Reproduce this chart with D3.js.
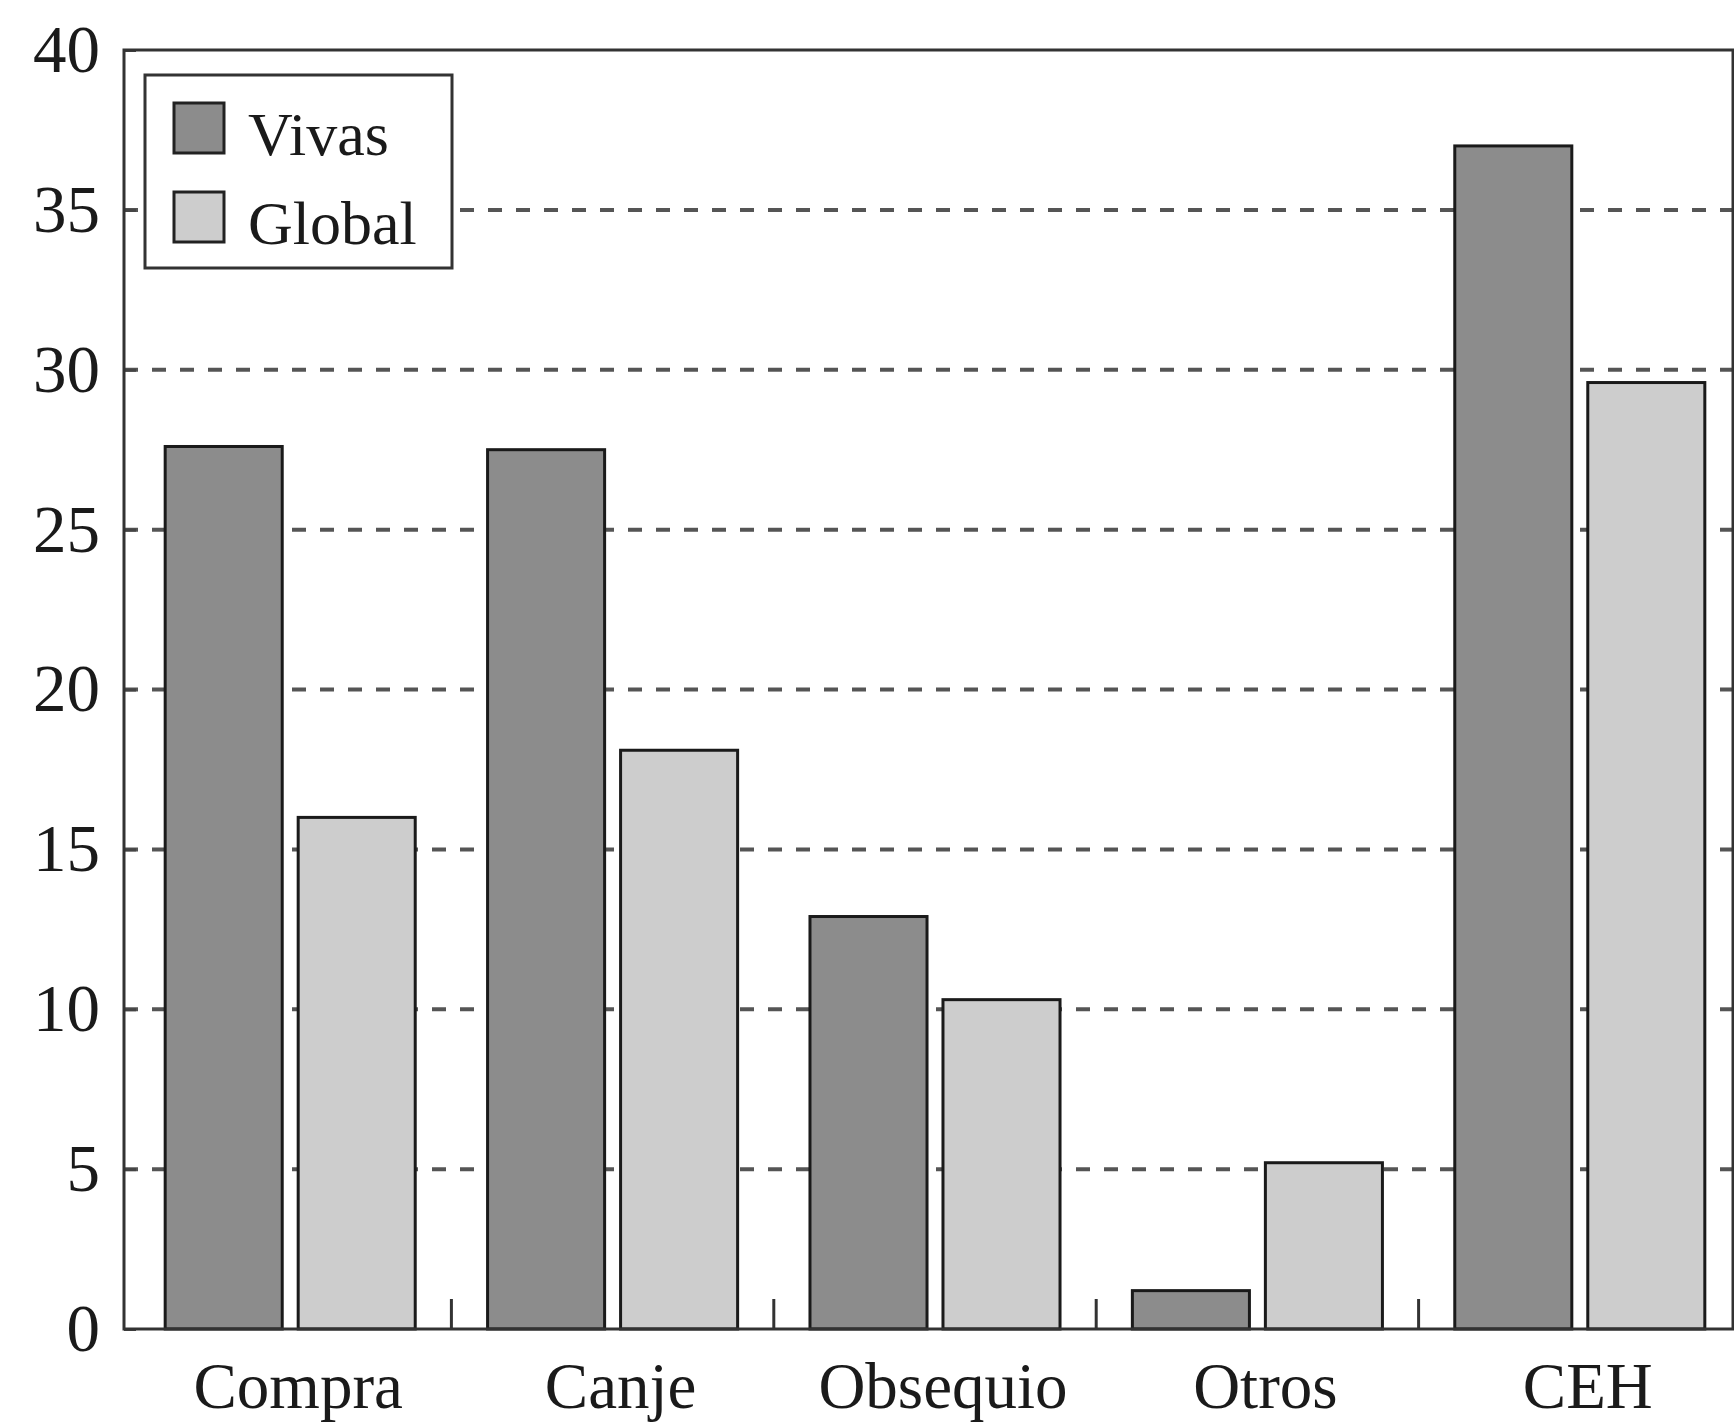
<!DOCTYPE html>
<html>
<head>
<meta charset="utf-8">
<script src="https://cdn.jsdelivr.net/npm/d3@7"></script>
<style>
  html, body { margin: 0; padding: 0; background: #fff; }
  svg { display: block; }
  text { font-family: "Liberation Serif", "Times New Roman", serif; fill: #1a1a1a; }
</style>
</head>
<body>
<svg id="chart" width="1734" height="1424"></svg>
<script>
// Origen de las adquisiciones (%)
const categories = ["Compra", "Canje", "Obsequio", "Otros", "CEH"];
const seriesNames = ["Vivas", "Global"];
const vivas  = [27.6, 27.5, 12.9, 1.2, 37.0];
const global = [16.0, 18.1, 10.3, 5.2, 29.6];
const yTicks = [0, 5, 10, 15, 20, 25, 30, 35, 40];

const colors = { Vivas: "#8c8c8c", Global: "#cdcdcd" };
const values = { Vivas: vivas, Global: global };

const svg = d3.select("#chart");
const frame = { left: 124, right: 1733, top: 50, bottom: 1329 };

const y = d3.scaleLinear().domain([0, 40]).range([frame.bottom, frame.top]);
const x0 = d3.scaleBand().domain(categories).range([129, 1741]).padding(0);
const x1 = d3.scaleBand().domain(seriesNames).range([0, x0.bandwidth()])
  .paddingInner(0.12).paddingOuter(0.272);

// dashed reference lines
svg.append("g")
  .selectAll("line")
  .data(yTicks.filter(t => t > 0 && t < 40))
  .join("line")
  .attr("x1", frame.left)
  .attr("x2", frame.right)
  .attr("y1", d => y(d))
  .attr("y2", d => y(d))
  .attr("stroke", "#555")
  .attr("stroke-width", 4)
  .attr("stroke-dasharray", "14 14");

// bars
const rows = categories.map((c, i) => ({ cat: c, i }));
svg.append("g")
  .selectAll("g")
  .data(rows)
  .join("g")
  .attr("transform", d => `translate(${x0(d.cat)},0)`)
  .selectAll("rect")
  .data(d => seriesNames.map(s => ({ s, v: values[s][d.i] })))
  .join("rect")
  .attr("x", d => x1(d.s))
  .attr("width", x1.bandwidth())
  .attr("y", d => y(d.v))
  .attr("height", d => y(0) - y(d.v))
  .attr("fill", d => colors[d.s])
  .attr("stroke", "#1a1a1a")
  .attr("stroke-width", 3);

// y axis labels and inward ticks
const yAxis = d3.axisLeft(y).tickValues(yTicks).tickSizeInner(-12).tickSizeOuter(0).tickPadding(24);
const yg = svg.append("g").attr("transform", `translate(${frame.left},0)`).call(yAxis);
yg.select(".domain").remove();
yg.selectAll(".tick line").attr("stroke", "#444").attr("stroke-width", 3);
yg.selectAll(".tick text")
  .attr("x", -24)
  .attr("font-size", 67)
  .attr("font-family", "Liberation Serif, serif")
  .attr("fill", "#1a1a1a");

// category separators on the baseline
svg.append("g")
  .selectAll("line")
  .data(categories.slice(1))
  .join("line")
  .attr("x1", d => x0(d))
  .attr("x2", d => x0(d))
  .attr("y1", frame.bottom)
  .attr("y2", frame.bottom - 30)
  .attr("stroke", "#333")
  .attr("stroke-width", 3);

// x axis labels
const xAxis = d3.axisBottom(x0).tickSize(0).tickPadding(0);
const xg = svg.append("g").attr("transform", `translate(8,0)`).call(xAxis);
xg.select(".domain").remove();
xg.selectAll(".tick text")
  .attr("y", 1408)
  .attr("dy", null)
  .attr("font-size", 65)
  .attr("font-family", "Liberation Serif, serif")
  .attr("fill", "#1a1a1a");

// plot frame
svg.append("rect")
  .attr("x", frame.left)
  .attr("y", frame.top)
  .attr("width", frame.right - frame.left)
  .attr("height", frame.bottom - frame.top)
  .attr("fill", "none")
  .attr("stroke", "#333")
  .attr("stroke-width", 3);

// legend
const legend = svg.append("g");
legend.append("rect")
  .attr("x", 145).attr("y", 75)
  .attr("width", 307).attr("height", 193)
  .attr("fill", "#fff")
  .attr("stroke", "#333")
  .attr("stroke-width", 3);
const items = legend.selectAll("g.item")
  .data(seriesNames)
  .join("g")
  .attr("class", "item")
  .attr("transform", (d, i) => `translate(174,${103 + i * 89})`);
items.append("rect")
  .attr("width", 50).attr("height", 50)
  .attr("fill", d => colors[d])
  .attr("stroke", "#222")
  .attr("stroke-width", 3);
items.append("text")
  .attr("x", 74)
  .attr("y", 52)
  .attr("font-size", 62)
  .text(d => d);
</script>
</body>
</html>
